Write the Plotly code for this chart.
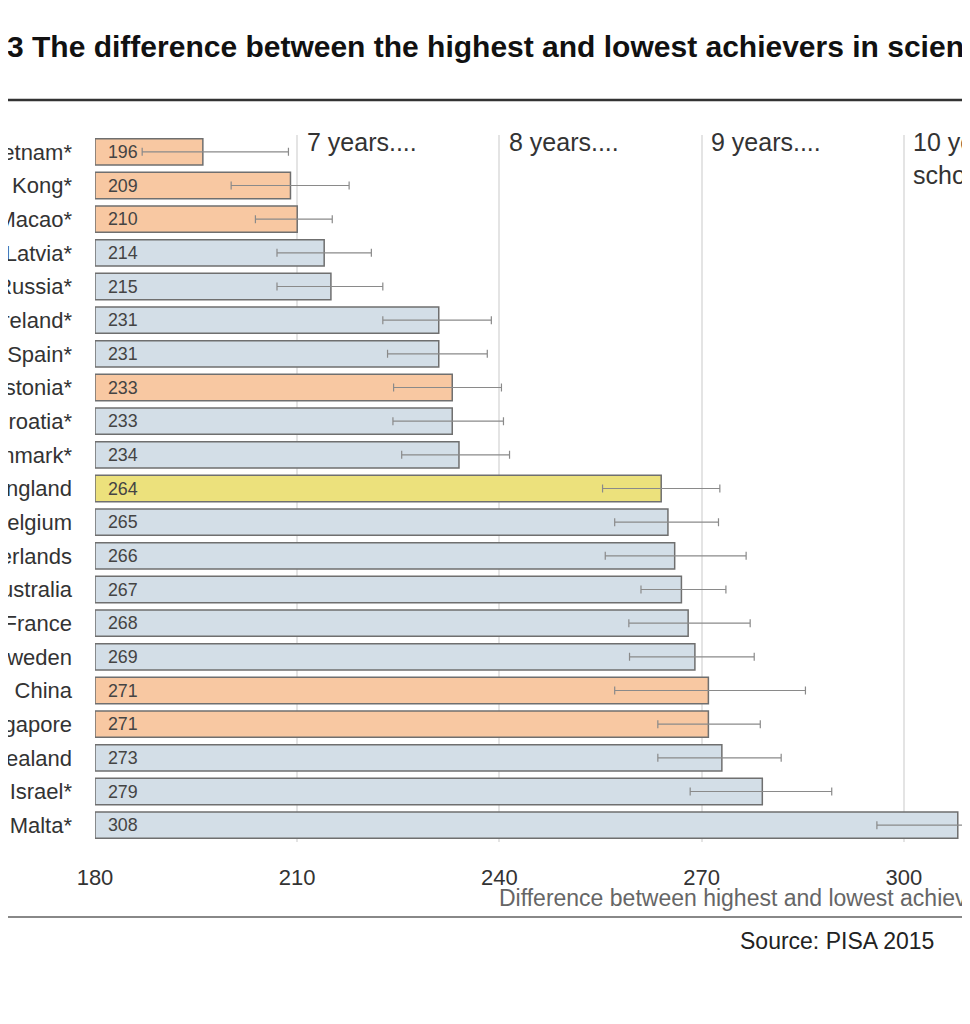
import plotly.graph_objects as go

countries = ["Vietnam*", "Hong Kong*", "Macao*", "Latvia*", "Russia*", "Ireland*", "Spain*",
             "Estonia*", "Croatia*", "Denmark*", "England", "Belgium", "Netherlands", "Australia",
             "France", "Sweden", "B-S-J-G China", "Singapore", "New Zealand", "Israel*", "Malta*"]
gaps = [196, 209, 210, 214, 215, 231, 231, 233, 233, 234, 264, 265, 266, 267, 268, 269, 271, 271, 273, 279, 308]
err_low = [187, 200.2, 203.8, 207, 207, 222.7, 223.4, 224.3, 224.2, 225.5, 255.3, 257.1, 255.7,
           261, 259.2, 259.3, 257.1, 263.5, 263.5, 268.3, 296]
err_high = [208.7, 217.7, 215.2, 221, 222.7, 238.8, 238.2, 240.3, 240.6, 241.5, 272.7, 272.5,
            276.6, 273.6, 277.2, 277.8, 285.4, 278.7, 281.8, 289.3, 311.7]
groups = ["east", "east", "east", "other", "other", "other", "other", "east", "other", "other",
          "england", "other", "other", "other", "other", "other", "east", "east", "other", "other", "other"]
year_labels = ["7 years....", "8 years....", "9 years....", "10 years of<br>schooling...."]
year_pos = [210, 240, 270, 300]

palette = {"east": "#f8c8a2", "other": "#d3dee7", "england": "#ece17c"}

fig = go.Figure()
fig.add_trace(go.Bar(
    y=countries, x=[g - 180 for g in gaps], base=180, orientation="h",
    marker=dict(color=[palette[g] for g in groups], line=dict(color="#6f6f6f", width=1.5)),
    text=["  " + str(g) for g in gaps], textposition="inside", insidetextanchor="start",
    textfont=dict(size=22, color="#444", family="Arial"),
    width=0.78,
    error_x=dict(type="data", symmetric=False,
                 array=[h - g for h, g in zip(err_high, gaps)],
                 arrayminus=[g - l for g, l in zip(gaps, err_low)],
                 color="#8a8a8a", thickness=1.2, width=4),
    showlegend=False,
))

# page has an 8px body margin, so work in screenshot pixels minus that offset
OFF = 8
W, H, L, R, T, B = 970, 1024, 95 - OFF, 0, 135 - OFF, 182 + OFF
pw, ph = W - L - R, H - T - B


def px(x):
    return (x - OFF - L) / pw


def py(y):
    return (H - B - (y - OFF)) / ph


ann = [
    dict(x=px(-95), y=py(47), text="<b>Figure 3 The difference between the highest and lowest achievers in science</b>",
         xanchor="left", yanchor="middle", font=dict(size=30, color="#111")),
    dict(x=px(497), y=py(898), text="Difference between highest and lowest achievers",
         xanchor="left", yanchor="middle", font=dict(size=23, color="#666")),
    dict(x=px(738), y=py(941), text="Source: PISA 2015",
         xanchor="left", yanchor="middle", font=dict(size=23, color="#222")),
]
for lab, pos in zip(year_labels, year_pos):
    ann.append(dict(x=pos + 1.1, xref="x", y=py(126), yref="paper", text=lab, align="left",
                    xanchor="left", yanchor="top", font=dict(size=25, color="#333")))
for a in ann[:3]:
    a.update(xref="paper", yref="paper")
for a in ann:
    a["showarrow"] = False

fig.update_layout(
    width=W, height=H, margin=dict(l=L, r=R, t=T, b=B),
    paper_bgcolor="white", plot_bgcolor="white",
    font=dict(family="Arial", color="#333"),
    bargap=0.22,
    annotations=ann,
    shapes=[
        dict(type="line", xref="paper", yref="paper", x0=px(0), x1=px(W + 20), y0=py(100), y1=py(100),
             line=dict(color="#333", width=2.5)),
        dict(type="line", xref="paper", yref="paper", x0=px(0), x1=px(W + 20), y0=py(917), y1=py(917),
             line=dict(color="#888", width=2)),
    ],
)
fig.update_xaxes(range=[180, 311], tickvals=[180, 210, 240, 270, 300], showgrid=True,
                 gridcolor="#e4e4e4", gridwidth=1.5, zeroline=False, showline=False,
                 tickfont=dict(size=22, color="#333"), ticklabelstandoff=20)
fig.update_yaxes(autorange="reversed", automargin=False, showgrid=False,
                 tickfont=dict(size=22, color="#333"), ticklabelstandoff=22)

fig.write_html("out.html")
